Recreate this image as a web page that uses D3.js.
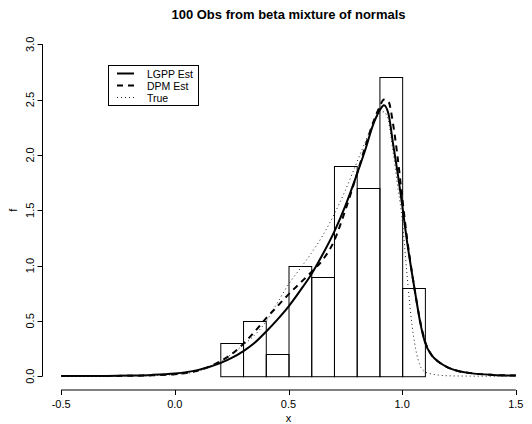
<!DOCTYPE html>
<html>
<head>
<meta charset="utf-8">
<script src="https://cdn.jsdelivr.net/npm/d3@7"></script>
<style>
  html, body { margin: 0; padding: 0; background: #fff; }
  svg { display: block; font-family: "Liberation Sans", Arial, Helvetica, sans-serif; }
</style>
</head>
<body>
<svg id="chart" width="532" height="424"></svg>
<script>
// Histogram of the 100 observations (density scale, bin width 0.1)
const binStarts = [0.2, 0.3, 0.4, 0.5, 0.6, 0.7, 0.8, 0.9, 1.0];
const binWidth = 0.1;
const binDensity = [0.3, 0.5, 0.2, 1.0, 0.9, 1.9, 1.7, 2.7, 0.8];

// Grid on which the density curves are evaluated
const gridX = [-0.5, -0.4, -0.3, -0.2, -0.1, 0.0, 0.05, 0.1, 0.15, 0.2, 0.25, 0.3, 0.35,
  0.4, 0.45, 0.5, 0.55, 0.6, 0.65, 0.7, 0.75, 0.8, 0.84, 0.87, 0.9, 0.92, 0.94, 0.96,
  0.98, 1.0, 1.02, 1.04, 1.06, 1.08, 1.1, 1.13, 1.16, 1.2, 1.25, 1.3, 1.4, 1.5];

// LGPP density estimate
const lgppEst = [0.001, 0.002, 0.003, 0.006, 0.012, 0.025, 0.037, 0.055, 0.083, 0.118,
  0.165, 0.225, 0.30, 0.40, 0.51, 0.63, 0.77, 0.92, 1.10, 1.30, 1.54, 1.82, 2.06, 2.26,
  2.40, 2.45, 2.37, 2.10, 1.84, 1.55, 1.24, 0.97, 0.72, 0.48, 0.31, 0.19, 0.13, 0.08,
  0.045, 0.028, 0.012, 0.006];

// DPM density estimate
const dpmEst = [0.001, 0.001, 0.002, 0.004, 0.008, 0.018, 0.03, 0.05, 0.085, 0.135,
  0.20, 0.29, 0.40, 0.52, 0.63, 0.74, 0.84, 0.94, 1.05, 1.22, 1.50, 1.82, 2.09, 2.28,
  2.43, 2.50, 2.48, 2.28, 1.98, 1.62, 1.27, 0.98, 0.72, 0.49, 0.32, 0.19, 0.13, 0.08,
  0.045, 0.028, 0.012, 0.006];

// True density
const trueDens = [0.0, 0.0, 0.001, 0.002, 0.006, 0.015, 0.025, 0.045, 0.08, 0.13,
  0.20, 0.28, 0.37, 0.49, 0.66, 0.83, 0.97, 1.11, 1.27, 1.46, 1.68, 1.93, 2.13, 2.27,
  2.37, 2.39, 2.30, 2.03, 1.72, 1.42, 0.95, 0.52, 0.24, 0.09, 0.04, 0.02, 0.01, 0.004,
  0.002, 0.001, 0.0, 0.0];

const xTicks = [-0.5, 0.0, 0.5, 1.0, 1.5];
const yTicks = [0.0, 0.5, 1.0, 1.5, 2.0, 2.5, 3.0];

const legendLabels = ["LGPP Est", "DPM Est", "True"];

const svg = d3.select("#chart");

// Plot region with 4% padding around the data ranges
const plotLeft = 43, plotRight = 534, plotTop = 31, plotBottom = 389.5;
const xDomain = [-0.5, 1.5], yDomain = [0, 3];
const xPad = (xDomain[1] - xDomain[0]) * 0.04, yPad = (yDomain[1] - yDomain[0]) * 0.04;
const x = d3.scaleLinear().domain([xDomain[0] - xPad, xDomain[1] + xPad]).range([plotLeft, plotRight]);
const y = d3.scaleLinear().domain([yDomain[0] - yPad, yDomain[1] + yPad]).range([plotBottom, plotTop]);

// Histogram bars
svg.append("g")
  .selectAll("rect")
  .data(binStarts.map((s, i) => ({ s, d: binDensity[i] })))
  .join("rect")
  .attr("x", d => x(d.s) + 0.5)
  .attr("y", d => Math.round(y(d.d)) + 0.5)
  .attr("width", d => x(d.s + binWidth) - x(d.s))
  .attr("height", d => y(0) - Math.round(y(d.d)))
  .attr("fill", "none")
  .attr("stroke", "#000")
  .attr("stroke-width", 1);

// Density curves
const series = [
  { values: lgppEst, width: 2, dash: null, color: "#000" },
  { values: dpmEst, width: 2, dash: "6,5", color: "#000" },
  { values: trueDens, width: 1, dash: "1,3", color: "#222" }
];

const line = d3.line()
  .x(d => x(d[0]))
  .y(d => y(d[1]))
  .curve(d3.curveMonotoneX);

series.forEach(s => {
  svg.append("path")
    .datum(gridX.map((gx, i) => [gx, s.values[i]]))
    .attr("d", line)
    .attr("fill", "none")
    .attr("stroke", s.color)
    .attr("stroke-width", s.width)
    .attr("stroke-dasharray", s.dash);
});

// x axis
const xAxis = svg.append("g").attr("transform", `translate(0,${plotBottom + 0.5})`);
xAxis.append("line")
  .attr("x1", x(xTicks[0])).attr("x2", x(xTicks[xTicks.length - 1]))
  .attr("stroke", "#000");
xAxis.selectAll(".tick")
  .data(xTicks)
  .join("line")
  .attr("x1", d => Math.round(x(d)) + 0.5).attr("x2", d => Math.round(x(d)) + 0.5)
  .attr("y1", 0).attr("y2", 5)
  .attr("stroke", "#000");
xAxis.selectAll("text")
  .data(xTicks)
  .join("text")
  .attr("x", d => x(d))
  .attr("y", 18)
  .attr("text-anchor", "middle")
  .attr("font-size", 11)
  .text(d => d3.format(".1f")(d).replace("−", "-"));

// y axis
const yAxis = svg.append("g").attr("transform", `translate(${plotLeft - 0.5},0)`);
yAxis.append("line")
  .attr("y1", y(yTicks[0])).attr("y2", y(yTicks[yTicks.length - 1]))
  .attr("stroke", "#000");
yAxis.selectAll(".tick")
  .data(yTicks)
  .join("line")
  .attr("y1", d => Math.round(y(d)) + 0.5).attr("y2", d => Math.round(y(d)) + 0.5)
  .attr("x1", 0).attr("x2", -5)
  .attr("stroke", "#000");
yAxis.selectAll("text")
  .data(yTicks)
  .join("text")
  .attr("transform", d => `translate(-9,${y(d)}) rotate(-90)`)
  .attr("text-anchor", "middle")
  .attr("font-size", 11)
  .text(d => d3.format(".1f")(d));

// Axis titles and main title
svg.append("text")
  .attr("x", (plotLeft + plotRight) / 2).attr("y", 422)
  .attr("text-anchor", "middle").attr("font-size", 11)
  .text("x");
svg.append("text")
  .attr("transform", `translate(17,${(plotTop + plotBottom) / 2}) rotate(-90)`)
  .attr("text-anchor", "middle").attr("font-size", 11)
  .text("f");
svg.append("text")
  .attr("x", (plotLeft + plotRight) / 2).attr("y", 19)
  .attr("text-anchor", "middle").attr("font-size", 13).attr("font-weight", "bold")
  .text("100 Obs from beta mixture of normals");

// Legend
const legend = svg.append("g");
legend.append("rect")
  .attr("x", 108.5).attr("y", 65.5).attr("width", 90).attr("height", 40)
  .attr("fill", "#fff").attr("stroke", "#000");
const rowY = [73.5, 85.5, 97.5];
series.forEach((s, i) => {
  legend.append("line")
    .attr("x1", 117).attr("x2", 134)
    .attr("y1", rowY[i]).attr("y2", rowY[i])
    .attr("stroke", s.color)
    .attr("stroke-width", s.width)
    .attr("stroke-dasharray", s.dash);
  legend.append("text")
    .attr("x", 147).attr("y", rowY[i] + 4)
    .attr("font-size", 10.5)
    .text(legendLabels[i]);
});
</script>
</body>
</html>
